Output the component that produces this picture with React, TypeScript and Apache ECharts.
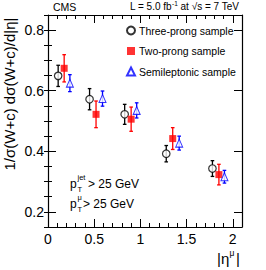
import React, { useEffect, useRef } from "react";
import * as echarts from "echarts";

// |eta| positions (slightly offset per sample) and values
const threeX = [0.11, 0.45, 0.83, 1.28, 1.78];
const threeY = [0.649, 0.572, 0.522, 0.392, 0.343];
const threeErr = [0.035, 0.035, 0.033, 0.027, 0.026];

const twoX = [0.175, 0.52, 0.9, 1.35, 1.85];
const twoY = [0.674, 0.522, 0.506, 0.442, 0.323];
const twoErr = [0.045, 0.044, 0.04, 0.036, 0.034];

const semiX = [0.237, 0.59, 0.96, 1.42, 1.91];
const semiY = [0.625, 0.574, 0.535, 0.427, 0.316];
const semiErr = [0.028, 0.025, 0.025, 0.023, 0.021];

const xMajor = [0, 0.5, 1, 1.5, 2];
const yMajor = [0.2, 0.4, 0.6, 0.8];

const seriesNames = ["Three-prong sample", "Two-prong sample", "Semileptonic sample"];

const FONT = "Liberation Sans, Arial, sans-serif";

function errBars(xs: number[], ys: number[], es: number[], color: string) {
  return {
    type: "custom",
    silent: true,
    z: 2,
    data: xs.map((x, i) => [x, ys[i], es[i]]),
    encode: { x: 0, y: 1 },
    renderItem: (params: any, api: any) => {
      const x = api.value(0);
      const y = api.value(1);
      const e = api.value(2);
      const hi = api.coord([x, y + e]);
      const lo = api.coord([x, y - e]);
      const w = 1.8;
      const st = { stroke: color, lineWidth: 1.3 };
      return {
        type: "group",
        children: [
          { type: "line", shape: { x1: hi[0], y1: hi[1], x2: lo[0], y2: lo[1] }, style: st },
          { type: "line", shape: { x1: hi[0] - w, y1: hi[1], x2: hi[0] + w, y2: hi[1] }, style: st },
          { type: "line", shape: { x1: lo[0] - w, y1: lo[1], x2: lo[0] + w, y2: lo[1] }, style: st },
        ],
      };
    },
  };
}

export default function App() {
  const ref = useRef<HTMLDivElement>(null);
  useEffect(() => {
    if (!ref.current) return;
    const chart = echarts.init(ref.current, null, { renderer: "svg" });
    const black = "#000";
    const majorX = (pos: string, labels: boolean) => ({
      type: "value",
      position: pos,
      min: 0,
      max: 2.1,
      axisLine: { show: true, onZero: false, lineStyle: { color: black, width: 1.2 } },
      axisTick: { show: true, inside: true, length: 8, customValues: xMajor, lineStyle: { color: black, width: 1 } },
      axisLabel: labels
        ? { show: true, customValues: xMajor, fontSize: 14, color: black, fontFamily: FONT, margin: 5 }
        : { show: false },
      splitLine: { show: false },
    });
    const minorX = (pos: string) => ({
      type: "value",
      position: pos,
      min: 0,
      max: 2.1,
      interval: 0.1,
      axisLine: { show: false },
      axisTick: { show: true, inside: true, length: 4, lineStyle: { color: black, width: 1 } },
      axisLabel: { show: false },
      splitLine: { show: false },
    });
    const majorY = (pos: string, labels: boolean) => ({
      type: "value",
      position: pos,
      min: 0.15,
      max: 0.85,
      axisLine: { show: true, onZero: false, lineStyle: { color: black, width: 1.2 } },
      axisTick: { show: true, inside: true, length: 8, customValues: yMajor, lineStyle: { color: black, width: 1 } },
      axisLabel: labels
        ? { show: true, customValues: yMajor, fontSize: 14, color: black, fontFamily: FONT, margin: 4 }
        : { show: false },
      splitLine: { show: false },
    });
    const minorY = (pos: string) => ({
      type: "value",
      position: pos,
      min: 0.15,
      max: 0.85,
      interval: 0.05,
      axisLine: { show: false },
      axisTick: { show: true, inside: true, length: 4, lineStyle: { color: black, width: 1 } },
      axisLabel: { show: false },
      splitLine: { show: false },
    });

    const txt = (text: string, x: number, y: number, size: number) => ({
      type: "text",
      x,
      y,
      style: { text, fontSize: size, fill: black, fontFamily: FONT, verticalAlign: "middle" },
    });

    chart.setOption({
      animation: false,
      backgroundColor: "#fff",
      grid: { left: 48, right: 24, top: 15, bottom: 43, containLabel: false },
      xAxis: [majorX("bottom", true), minorX("bottom"), majorX("top", false), minorX("top")],
      yAxis: [majorY("left", true), minorY("left"), majorY("right", false), minorY("right")],
      legend: {
        orient: "vertical",
        left: 121,
        top: 20,
        padding: 5,
        itemWidth: 8,
        itemHeight: 8,
        itemGap: 9.5,
        textStyle: { fontSize: 10.5, color: black, fontFamily: FONT, padding: [0, 0, 0, -1] },
        data: seriesNames,
      },
      series: [
        errBars(threeX, threeY, threeErr, "#000"),
        errBars(twoX, twoY, twoErr, "#ff0000"),
        errBars(semiX, semiY, semiErr, "#0000ff"),
        {
          name: seriesNames[0],
          type: "scatter",
          z: 3,
          symbol: "circle",
          symbolSize: 7.5,
          itemStyle: { color: "#fff", borderColor: "#000", borderWidth: 1.2 },
          data: threeX.map((x, i) => [x, threeY[i]]),
        },
        {
          name: seriesNames[1],
          type: "scatter",
          z: 3,
          symbol: "rect",
          symbolSize: 7,
          itemStyle: { color: "#ff0000" },
          data: twoX.map((x, i) => [x, twoY[i]]),
        },
        {
          name: seriesNames[2],
          type: "scatter",
          z: 3,
          symbol: "triangle",
          symbolSize: [7, 8],
          itemStyle: { color: "#fff", borderColor: "#0000ff", borderWidth: 1 },
          data: semiX.map((x, i) => [x, semiY[i]]),
        },
      ],
      graphic: [
        {
          type: "text",
          left: 53,
          top: 1,
          style: { text: "CMS", fontSize: 10.5, fill: black, fontFamily: FONT },
        },
        {
          type: "text",
          left: 130,
          top: 0,
          style: {
            text: "L = 5.0 fb{sup|-1} at √s = 7 TeV",
            fontSize: 10,
            fill: black,
            fontFamily: FONT,
            rich: { sup: { fontSize: 6.5, verticalAlign: "top", padding: [0, 0, 5, 0], fontFamily: FONT } },
          },
        },
        {
          type: "text",
          x: 9,
          y: 94,
          rotation: Math.PI / 2,
          style: {
            text: "1/σ(W+c) dσ(W+c)/d|η|",
            fontSize: 15,
            fill: black,
            fontFamily: FONT,
            align: "center",
            verticalAlign: "middle",
          },
        },
        txt("p", 70, 184, 12),
        txt("jet", 77.5, 177, 7.5),
        txt("T", 77.5, 189.5, 7.5),
        txt("> 25 GeV", 88, 184, 12),
        txt("p", 70, 204, 12),
        txt("μ", 77.5, 197, 7.5),
        txt("T", 77.5, 209.5, 7.5),
        txt("> 25 GeV", 83, 204, 12),
        txt("|η", 217, 258, 15),
        txt("μ", 229.5, 252.5, 8.5),
        txt("|", 236, 258, 15),
      ],
    });
    return () => chart.dispose();
  }, []);
  return (
    <div
      ref={ref}
      style={{ position: "fixed", left: 0, top: 0, width: 266, height: 270 }}
    />
  );
}
